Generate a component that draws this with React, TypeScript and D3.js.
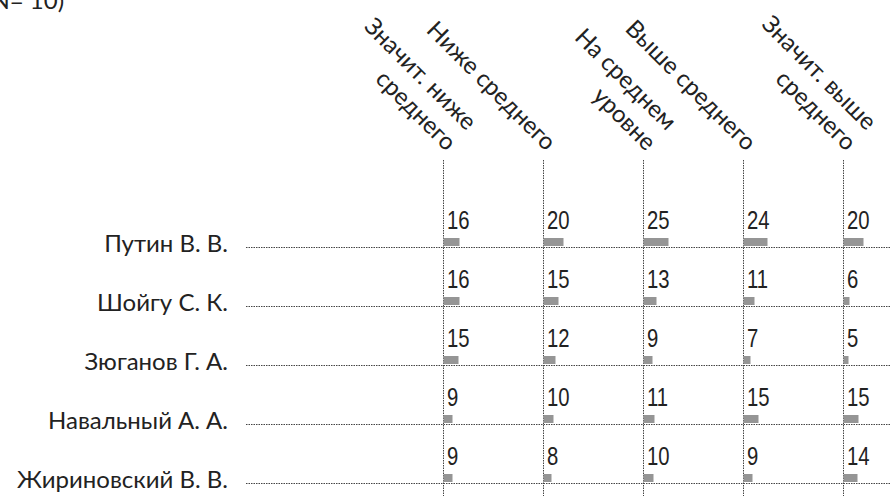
import React from "react";
import * as d3 from "d3";

const categories = ["Путин В. В.", "Шойгу С. К.", "Зюганов Г. А.", "Навальный А. А.", "Жириновский В. В."];
const columnKeys = ["sigBelow", "below", "average", "above", "sigAbove"];
const columnTitles = [
  ["Значит. ниже", "среднего"],
  ["Ниже среднего"],
  ["На среднем", "уровне"],
  ["Выше среднего"],
  ["Значит. выше", "среднего"],
];
const sigBelow = [16, 16, 15, 9, 9];
const below = [20, 15, 12, 10, 8];
const average = [25, 13, 9, 11, 10];
const above = [24, 11, 7, 15, 9];
const sigAbove = [20, 6, 5, 15, 14];
const series = [sigBelow, below, average, above, sigAbove];
const noteText = "(N= 10)";

const W = 890;
const H = 496;
const labelFont = "Lato, 'Noto Sans', sans-serif";
const numFont = "'Liberation Sans', Arial, sans-serif";

export default function App() {
  const x = d3.scalePoint<string>().domain(columnKeys).range([443, 843]);
  const y = d3.scalePoint<string>().domain(categories).range([247, 483]);
  const w = d3.scaleLinear().domain([0, 25]).range([0, 25]);
  const lineH = 29;

  return (
    <svg width={W} height={H} style={{ position: "absolute", left: 0, top: 0, background: "#fff" }}>
      <text x={-15} y={9} fontFamily={labelFont} fontSize={24} fill="#222">{noteText}</text>
      {categories.map((c) => (
        <line key={"h" + c} x1={246} x2={W} y1={y(c)! + 0.5} y2={y(c)! + 0.5}
          stroke="#444" strokeWidth={1} strokeDasharray="1.5,1" />
      ))}
      {columnKeys.map((k) => (
        <line key={"v" + k} x1={x(k)! + 0.5} x2={x(k)! + 0.5} y1={160} y2={H}
          stroke="#444" strokeWidth={1} strokeDasharray="1.5,1" />
      ))}
      {columnKeys.map((k, i) => {
        const lines = columnTitles[i];
        const n = lines.length;
        return (
          <text key={"t" + k} transform={`translate(${x(k)! + 3},152) rotate(45)`}
            fontFamily={labelFont} fontSize={24} fill="#222" textAnchor="end">
            {lines.map((l, j) => (
              <tspan key={j} x={0} y={-(n - 1 - j) * lineH}>{l}</tspan>
            ))}
          </text>
        );
      })}
      {categories.map((c) => (
        <text key={"l" + c} x={228} y={y(c)! + 5} textAnchor="end"
          fontFamily={labelFont} fontSize={24} fill="#222">{c}</text>
      ))}
      {columnKeys.map((k, i) =>
        categories.map((c, r) => {
          const v = series[i][r];
          return (
            <g key={k + c}>
              <rect x={x(k)! + 0.5} y={y(c)! - 9} width={w(v)} height={8} fill="#959595" />
              <text transform={`translate(${x(k)! + 4},${y(c)! - 18}) scale(0.78,1)`}
                fontFamily={numFont} fontSize={26} fill="#222">{v}</text>
            </g>
          );
        })
      )}
    </svg>
  );
}
